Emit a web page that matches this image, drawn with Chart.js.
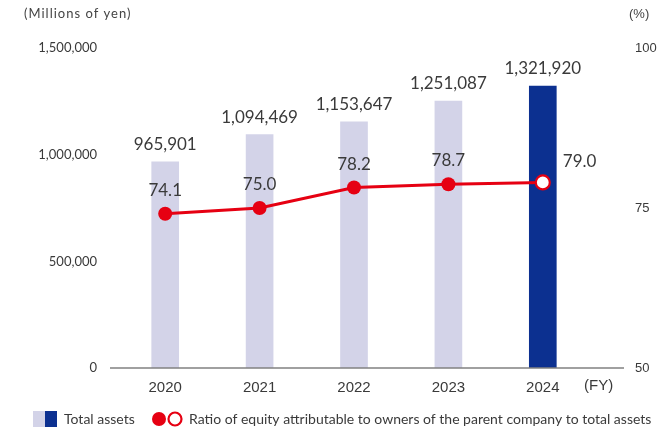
<!DOCTYPE html>
<html><head><meta charset="utf-8">
<script src="https://cdn.jsdelivr.net/npm/chart.js@4/dist/chart.umd.min.js"></script>
<style>html,body{margin:0;padding:0;background:#fff}#wrap{width:661px;height:435px;position:relative}</style>
</head><body><div id="wrap"><canvas id="c" width="661" height="435"></canvas></div>
<script>
const categories = ['2020','2021','2022','2023','2024'];
const totalAssets = [965901, 1094469, 1153647, 1251087, 1321920];
const equityRatio = [74.1, 75.0, 78.2, 78.7, 79.0];
const leftTicks = [0, 500000, 1000000, 1500000];
const rightTicks = [50, 75, 100];

const LAV = '#d3d3e8', BLUE = '#0c3090', RED = '#e60012', TXT = '#3a3a3a';
const numFont = 'Lato, "Noto Sans", sans-serif';
const sansFont = '"Liberation Sans", Arial, sans-serif';

const fmt = v => v.toLocaleString('en-US');

const overlay = {
  id: 'overlay',
  afterDatasetsDraw(chart) {
    const ctx = chart.ctx;
    const y = chart.scales.y;
    ctx.save();
    // axis line
    ctx.strokeStyle = '#808080'; ctx.lineWidth = 1.5;
    ctx.beginPath(); ctx.moveTo(110, y.getPixelForValue(0)); ctx.lineTo(624, y.getPixelForValue(0)); ctx.stroke();
    // (FY)
    ctx.fillStyle = TXT; ctx.font = '15px ' + sansFont; ctx.textAlign = 'left'; ctx.textBaseline = 'middle';
    ctx.fillText('(FY)', 584, 386);
    // units
    ctx.font = '13px ' + numFont; ctx.fillStyle = '#444';
    ctx.letterSpacing = '1px';
    ctx.fillText('(Millions of yen)', 24, 14);
    ctx.letterSpacing = '0px';
    ctx.font = '13px ' + sansFont;
    ctx.fillText('(%)', 629, 14);
    // bar labels
    ctx.font = '17px ' + numFont; ctx.fillStyle = TXT; ctx.textAlign = 'center'; ctx.textBaseline = 'alphabetic';
    const barMeta = chart.getDatasetMeta(0);
    barMeta.data.forEach((b, i) => { ctx.fillText(fmt(totalAssets[i]), b.x, b.y - 12); });
    // line labels
    const lineMeta = chart.getDatasetMeta(1);
    lineMeta.data.forEach((p, i) => {
      const t = equityRatio[i].toFixed(1);
      if (i === equityRatio.length - 1) { ctx.textAlign = 'left'; ctx.fillText(t, p.x + 20, p.y - 15); }
      else { ctx.textAlign = 'center'; ctx.fillText(t, p.x, p.y - 18); }
    });
    // legend
    const ly = 419;
    ctx.fillStyle = LAV; ctx.fillRect(33, 411, 12, 16);
    ctx.fillStyle = BLUE; ctx.fillRect(45, 411, 12, 16);
    ctx.fillStyle = TXT; ctx.font = '14px ' + numFont; ctx.textAlign = 'left'; ctx.textBaseline = 'middle';
    ctx.fillText('Total assets', 64, ly);
    ctx.fillStyle = RED; ctx.beginPath(); ctx.arc(159, ly, 7, 0, Math.PI * 2); ctx.fill();
    ctx.fillStyle = '#fff'; ctx.strokeStyle = RED; ctx.lineWidth = 2.2;
    ctx.beginPath(); ctx.arc(175, ly, 6.5, 0, Math.PI * 2); ctx.fill(); ctx.stroke();
    ctx.fillStyle = TXT;
    ctx.fillText('Ratio of equity attributable to owners of the parent company to total assets', 189, ly);
    ctx.restore();
  }
};

new Chart(document.getElementById('c'), {
  data: {
    labels: categories,
    datasets: [
      { type: 'bar', data: totalAssets, yAxisID: 'y', order: 2,
        backgroundColor: totalAssets.map((v, i) => i === totalAssets.length - 1 ? BLUE : LAV),
        barThickness: 27 },
      { type: 'line', data: equityRatio, yAxisID: 'y1', order: 1,
        borderColor: RED, borderWidth: 3, tension: 0,
        pointRadius: 7, pointBorderWidth: equityRatio.map((v, i) => i === equityRatio.length - 1 ? 2.2 : 0),
        pointBackgroundColor: equityRatio.map((v, i) => i === equityRatio.length - 1 ? '#fff' : RED),
        pointBorderColor: RED }
    ]
  },
  options: {
    responsive: false, animation: false,
    layout: { padding: { top: 48, bottom: 0, left: 0, right: 0 } },
    plugins: { legend: { display: false }, tooltip: { enabled: false } },
    scales: {
      x: { grid: { display: false }, border: { display: false },
        ticks: { color: TXT, font: { family: sansFont, size: 15 }, padding: 3 },
        afterFit(s) { s.height = 67; } },
      y: { position: 'left', min: 0, max: 1500000, grid: { display: false }, border: { display: false },
        afterBuildTicks(s) { s.ticks = leftTicks.map(v => ({ value: v })); },
        ticks: { color: TXT, font: { family: numFont, size: 13 }, padding: 13, callback: v => fmt(v) },
        afterFit(s) { s.width = 118; } },
      y1: { position: 'right', min: 50, max: 100, grid: { display: false }, border: { display: false },
        afterBuildTicks(s) { s.ticks = rightTicks.map(v => ({ value: v })); },
        ticks: { color: TXT, font: { family: sansFont, size: 13 }, padding: 37 },
        afterFit(s) { s.width = 71; } }
    }
  },
  plugins: [overlay]
});
</script></body></html>
